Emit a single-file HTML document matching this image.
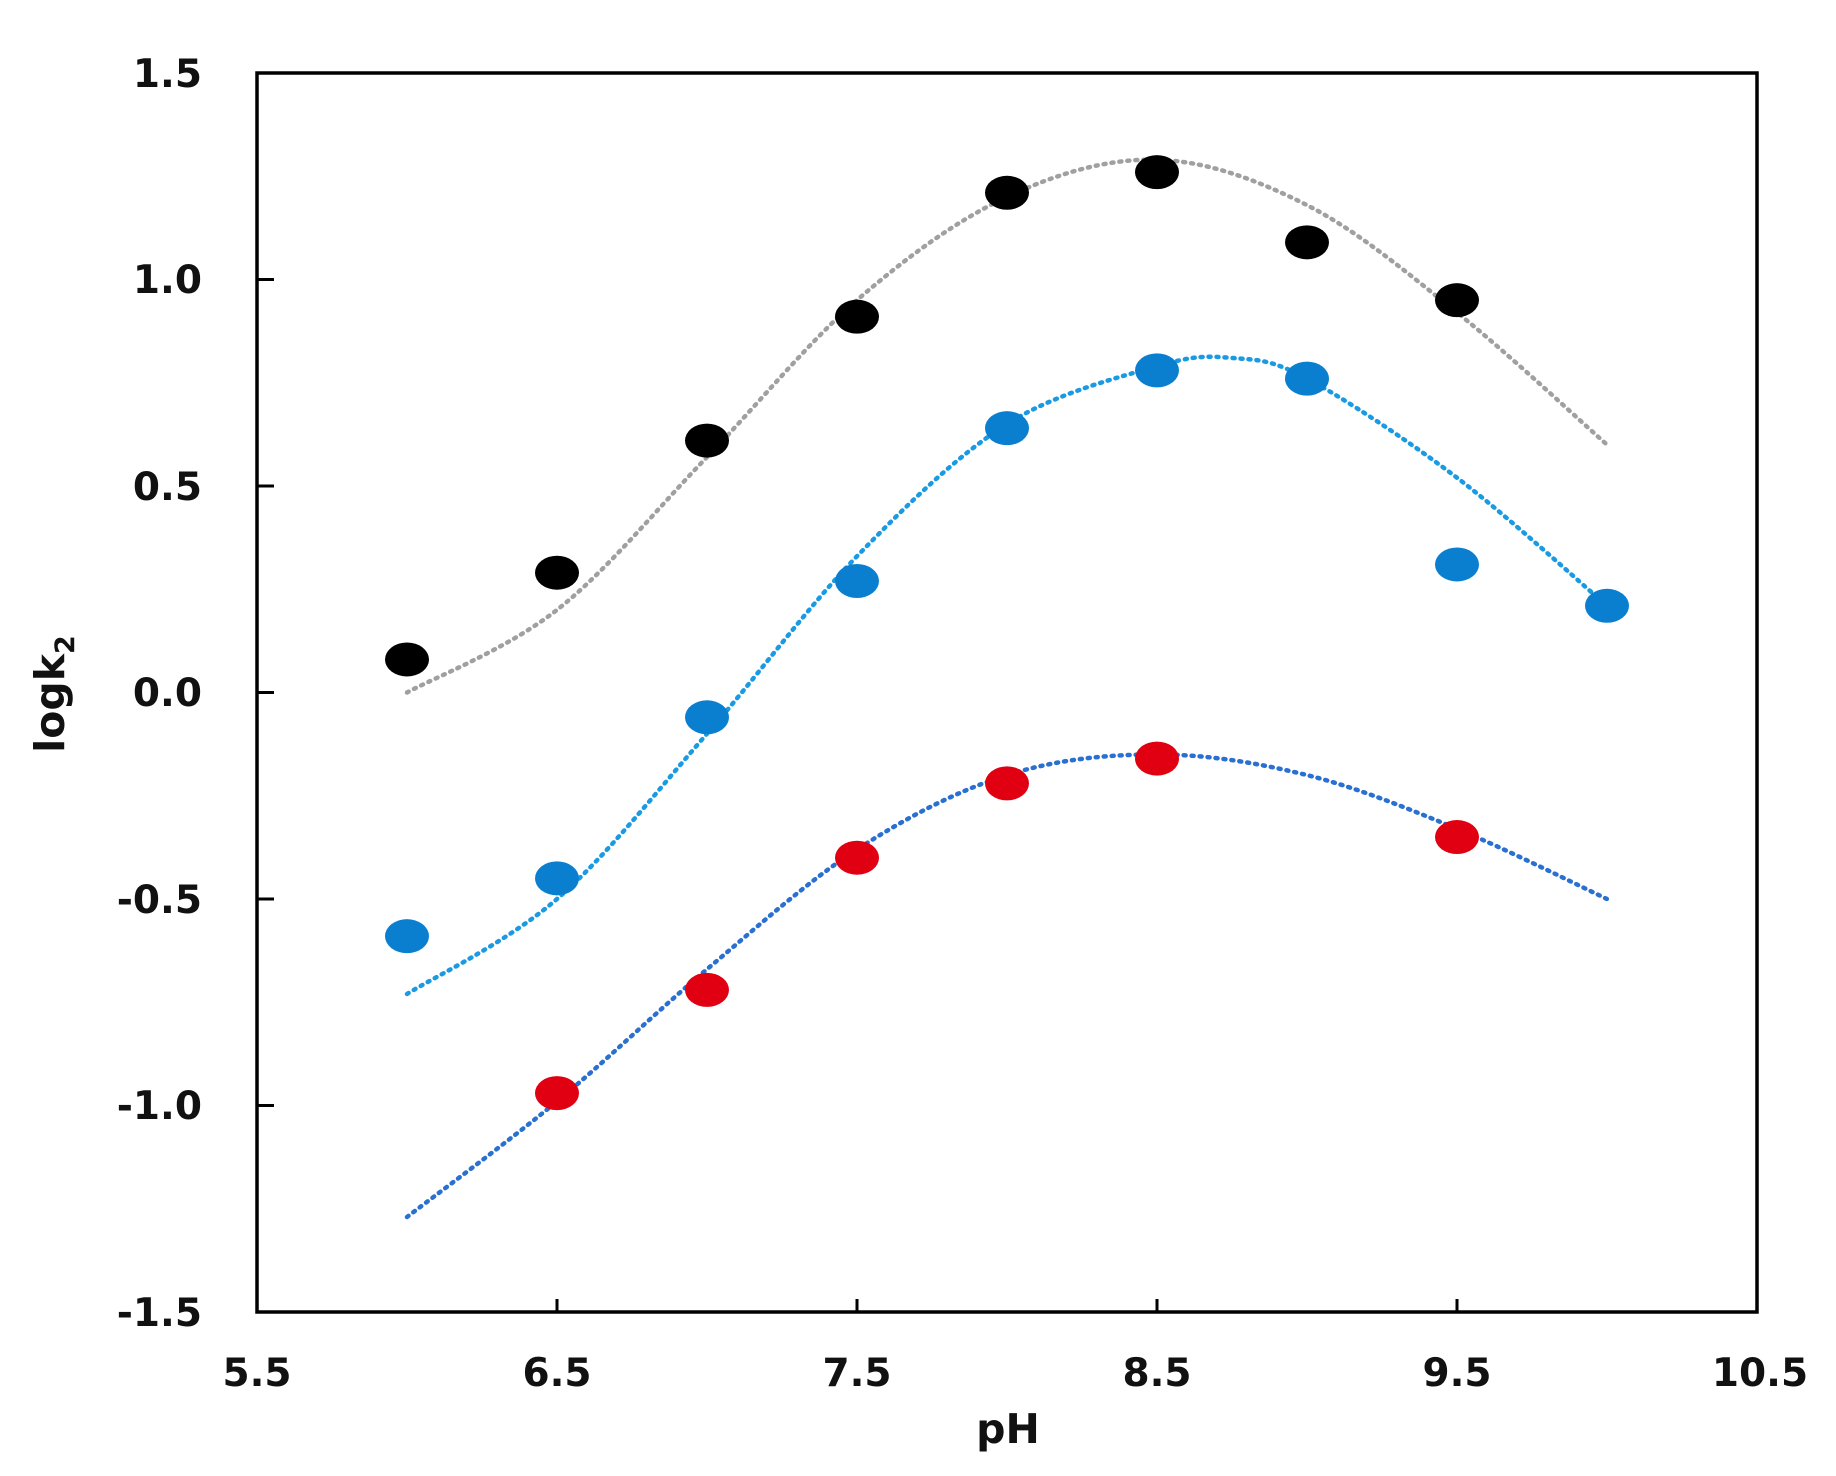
<!DOCTYPE html>
<html><head><meta charset="utf-8"><style>
html,body{margin:0;padding:0;background:#fff;}
svg{display:block;font-family:"DejaVu Sans","Liberation Sans",sans-serif;font-weight:bold;}
</style></head><body>
<svg id="s" width="1836" height="1476" viewBox="0 0 1836 1476" xmlns="http://www.w3.org/2000/svg">
<rect x="0" y="0" width="1836" height="1476" fill="#fff"/>
<g id="curves"></g>
<g id="pts"></g>
<rect x="257" y="73" width="1500" height="1239" fill="none" stroke="#000" stroke-width="3.5"/>
<g stroke="#000" stroke-width="3">
<line x1="557" y1="1312" x2="557" y2="1299"/><line x1="857" y1="1312" x2="857" y2="1299"/><line x1="1157" y1="1312" x2="1157" y2="1299"/><line x1="1457" y1="1312" x2="1457" y2="1299"/>
<line x1="257" y1="279.5" x2="274" y2="279.5"/><line x1="257" y1="486" x2="274" y2="486"/><line x1="257" y1="692.5" x2="274" y2="692.5"/><line x1="257" y1="899" x2="274" y2="899"/><line x1="257" y1="1105.5" x2="274" y2="1105.5"/>
</g>
<g font-size="39" fill="#111" text-anchor="end">
<text x="202" y="87">1.5</text><text x="202" y="293">1.0</text><text x="202" y="500">0.5</text><text x="202" y="706">0.0</text><text x="202" y="913">-0.5</text><text x="202" y="1119">-1.0</text><text x="202" y="1326">-1.5</text>
</g>
<g font-size="39" fill="#111" text-anchor="middle">
<text x="257" y="1386">5.5</text><text x="557" y="1386">6.5</text><text x="857" y="1386">7.5</text><text x="1157" y="1386">8.5</text><text x="1457" y="1386">9.5</text><text x="1760" y="1386">10.5</text>
<text x="1008" y="1443" font-size="41">pH</text>
</g>
<text transform="translate(64,694) rotate(-90)" font-size="41" fill="#111" text-anchor="middle">logk<tspan font-size="27" dy="10">2</tspan></text>
</svg>
<script>
function X(v){return 257+(v-5.5)*300;}
function Y(v){return 73+(1.5-v)*413;}
function path(p){
  var pts=p.map(function(a){return [X(a[0]),Y(a[1])];});
  var d="M"+pts[0][0]+","+pts[0][1];
  for(var i=0;i<pts.length-1;i++){
    var p0=pts[i-1]||pts[i],p1=pts[i],p2=pts[i+1],p3=pts[i+2]||p2;
    var c1=[p1[0]+(p2[0]-p0[0])/6,p1[1]+(p2[1]-p0[1])/6];
    var c2=[p2[0]-(p3[0]-p1[0])/6,p2[1]-(p3[1]-p1[1])/6];
    d+=" C"+c1+" "+c2+" "+p2;
  }
  return d;
}
var curves=[
 [[[6,0.0],[6.5,0.2],[7,0.57],[7.5,0.95],[8,1.2],[8.5,1.29],[9,1.18],[9.5,0.92],[10,0.6]],"#a0a0a0"],
 [[[6,-0.73],[6.5,-0.5],[7,-0.1],[7.5,0.33],[8,0.65],[8.5,0.79],[8.75,0.81],[9,0.76],[9.5,0.52],[10,0.21]],"#1a9ae2"],
 [[[6,-1.27],[6.5,-0.99],[7,-0.67],[7.5,-0.38],[8,-0.2],[8.5,-0.15],[9,-0.2],[9.5,-0.33],[10,-0.5]],"#2a70d0"]
];
var g=document.getElementById("curves"),h="";
curves.forEach(function(c){h+='<path d="'+path(c[0])+'" fill="none" stroke="'+c[1]+'" stroke-width="4.5" stroke-dasharray="2,6" stroke-linecap="round"/>';});
g.innerHTML=h;
var sets=[
 [[[6,0.08],[6.5,0.29],[7,0.61],[7.5,0.91],[8,1.21],[8.5,1.26],[9,1.09],[9.5,0.95]],"#000"],
 [[[6,-0.59],[6.5,-0.45],[7,-0.06],[7.5,0.27],[8,0.64],[8.5,0.78],[9,0.76],[9.5,0.31],[10,0.21]],"#0a7fcf"],
 [[[6.5,-0.97],[7,-0.72],[7.5,-0.4],[8,-0.22],[8.5,-0.16],[9.5,-0.35]],"#e00012"]
];
h="";
sets.forEach(function(s){s[0].forEach(function(p){h+='<ellipse cx="'+X(p[0])+'" cy="'+Y(p[1])+'" rx="22" ry="17" fill="'+s[1]+'"/>';});});
document.getElementById("pts").innerHTML=h;
</script>
</body></html>
